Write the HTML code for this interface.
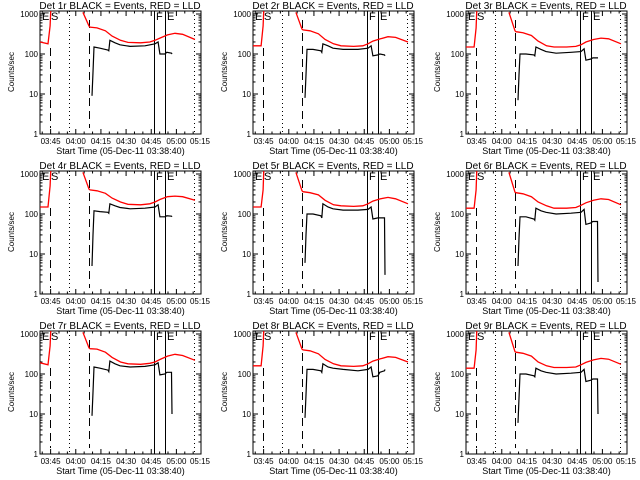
<!DOCTYPE html>
<html><head><meta charset="utf-8">
<style>
html,body{margin:0;padding:0;background:#fff;}
svg{display:block;}
text{font-family:"Liberation Sans",sans-serif;fill:#000;}
</style></head>
<body>
<svg id="chart" width="640" height="480" viewBox="0 0 640 480" xmlns="http://www.w3.org/2000/svg"></svg>
<script>
// Data: time in minutes since 03:38:40
const redT1 = [0, 4.8, 6, 6.5];
const redT2 = [25.6, 29.2, 29.8, 34, 39, 43, 48, 52.5, 60, 65.5, 68.6, 71.5, 76, 80.5, 85, 92.4];
const blackT = [31, 31.6, 32.2, 35.8, 40.5, 41, 41.7, 44.7, 47.7, 53.7, 62.6, 68.6, 70.4, 71.5, 74.5, 75.6, 78.4, 78.7];
const detNames = ["1r","2r","3r","4r","5r","6r","7r","8r","9r"];
const red1Vals = [
  [200,180,500,1500],[160,160,500,1500],[150,150,450,1500],
  [150,150,500,1500],[150,150,400,1500],[140,140,400,1500],
  [190,170,500,1500],[160,160,500,1500],[140,140,400,1500]];
const red2Vals = [
  [1100,500,470,450,380,280,220,195,190,200,220,250,300,330,310,230],
  [1100,420,400,380,320,230,180,160,155,160,180,210,240,270,260,200],
  [1100,380,360,340,290,210,160,150,150,155,170,200,230,250,240,180],
  [1100,420,400,380,330,250,200,175,170,180,200,230,270,280,270,220],
  [1100,380,360,340,300,220,170,160,155,160,180,210,240,260,240,180],
  [1100,350,340,320,270,200,160,140,140,145,165,190,220,240,230,170],
  [1100,450,430,420,350,260,200,180,175,185,200,230,280,310,290,220],
  [1100,420,400,380,320,230,180,160,155,160,180,210,240,270,260,200],
  [1100,360,350,330,280,200,160,145,145,150,170,195,225,245,235,175]];
const blackVals = [
  [9,35,150,140,125,120,220,190,170,155,160,180,200,100,100,110,105,100],
  [8,30,130,130,120,110,180,160,140,130,130,140,160,90,95,100,95,90],
  [7,30,100,100,95,90,150,130,115,105,110,115,135,70,75,80,80,80],
  [5,30,120,115,110,105,180,160,145,135,140,150,170,85,85,90,88,85],
  [6,30,100,100,90,80,180,150,135,125,125,130,150,75,80,80,80,3],
  [5,25,85,85,75,70,140,120,110,100,105,110,130,55,60,65,65,2],
  [9,35,150,140,125,115,210,180,160,150,155,170,190,95,100,110,110,10],
  [8,30,130,130,120,110,180,150,140,130,120,130,150,85,90,110,120,130],
  [6,25,100,100,90,85,140,120,110,100,105,110,130,65,70,75,75,10]];
const xTickLabels = ["03:45","04:00","04:15","04:30","04:45","05:00","05:15"];
const xTickMins = [6.33,21.33,36.33,51.33,66.33,81.33,96.33];
const yTickVals = [1,10,100,1000];
const yTickLabels = ["1","10","100","1000"];
// event markers (minutes): dashed, dotted, dashed, solid, solid, dotted
const markerT = [6, 17.3, 29.2, 68, 74.5, 92];
const markerStyle = ["dash","dot","dash","solid","solid","dot"];

const NS = "http://www.w3.org/2000/svg";
const svg = document.getElementById("chart");
function mk(tag, attrs, parent){const e=document.createElementNS(NS,tag);for(const k in attrs)e.setAttribute(k,attrs[k]);(parent||svg).appendChild(e);return e;}

const PW=161, PTOP=11, PBOT=134, TMAX=96;
for(let p=0;p<9;p++){
  const ox=[0,213,426][p%3], oy=Math.floor(p/3)*160;
  const L=ox+40, R=L+PW, T=oy+PTOP, B=oy+PBOT;
  const xs=t=>L+t*PW/TMAX;
  const ys=v=>B-40*Math.log10(v);
  const g=mk("g",{});
  
  
  const clipId="c"+p;
  const cp=mk("clipPath",{id:clipId},g); mk("rect",{x:L,y:T,width:PW,height:B-T},cp);
  const title=mk("text",{x:ox+120,y:oy+9,"font-size":"10","text-anchor":"middle"},g);
  title.textContent="Det "+detNames[p]+" BLACK = Events, RED = LLD";
  
  
  const yl=mk("text",{x:0,y:0,"font-size":"8","text-anchor":"middle",transform:`translate(${ox+14},${oy+72}) rotate(-90)`},g);
  yl.textContent="Counts/sec";
  
  
  const xl=mk("text",{x:L+PW/2,y:oy+154,"font-size":"9","text-anchor":"middle"},g);
  xl.textContent="Start Time (05-Dec-11 03:38:40)";
  
  
  const fr=mk("rect",{x:L,y:T,width:PW,height:B-T,fill:"none",stroke:"#000","stroke-width":"1"},g);
  
  
  yTickVals.forEach((v,i)=>{
    const y=ys(v);
    mk("line",{x1:L,x2:L+5,y1:y,y2:y,stroke:"#000"},g);
    mk("line",{x1:R-5,x2:R,y1:y,y2:y,stroke:"#000"},g);
    const t=mk("text",{x:L-2,y:y+3,"font-size":"8","text-anchor":"end"},g);
    t.textContent=yTickLabels[i];
    
    
    if(i<3){for(let m=2;m<10;m++){const yy=ys(v*m);
      mk("line",{x1:L,x2:L+2.5,y1:yy,y2:yy,stroke:"#000"},g);
      mk("line",{x1:R-2.5,x2:R,y1:yy,y2:yy,stroke:"#000"},g);}}
  });
  xTickMins.forEach((m,i)=>{
    const x=xs(m);
    if(x<=R+0.5){
      mk("line",{x1:x,x2:x,y1:B,y2:B-5,stroke:"#000"},g);
      mk("line",{x1:x,x2:x,y1:T,y2:T+5,stroke:"#000"},g);
    }
    const t=mk("text",{x:Math.min(x,R-1),y:B+10,"font-size":"8","text-anchor":"middle"},g);
    t.textContent=xTickLabels[i];
    
    
    for(let k=1;k<3;k++){const xx=xs(m-5*k); if(xx>L&&xx<R){
      mk("line",{x1:xx,x2:xx,y1:B,y2:B-2.5,stroke:"#000"},g);
      mk("line",{x1:xx,x2:xx,y1:T,y2:T+2.5,stroke:"#000"},g);}}
  });
  markerT.forEach((m,i)=>{
    const x=Math.round(xs(m))+0.5;
    const st=markerStyle[i];
    const a={x1:x,x2:x,y1:T,y2:B,stroke:"#000","stroke-width":"1"};
    if(st==="dash"){a.y1=i===0?oy+48:oy+20;a.y2=oy+128;a["stroke-dasharray"]="8,5";}
    if(st==="dot"){a["stroke-dasharray"]="1,3";}
    const ln=mk("line",a,g);
    
    
  });
  [["E",L+2],["S",L+11],["F",xs(markerT[3])+2],["E",xs(markerT[4])+2]].forEach(([s,x])=>{
    const t=mk("text",{x:x,y:T+9,"font-size":"11"},g);
    t.textContent=s;
    
    
  });
  const cg=mk("g",{"clip-path":`url(#${clipId})`},g);
  const pts=(ts,vs)=>ts.map((t,i)=>xs(t).toFixed(1)+","+ys(vs[i]).toFixed(1)).join(" ");
  const r1=mk("polyline",{points:pts(redT1,red1Vals[p]),fill:"none",stroke:"#f00","stroke-width":"1.3"},cg);
  
  
  const r2=mk("polyline",{points:pts(redT2,red2Vals[p]),fill:"none",stroke:"#f00","stroke-width":"1.3"},cg);
  
  
  const bl=mk("polyline",{points:pts(blackT,blackVals[p]),fill:"none",stroke:"#000","stroke-width":"1.2"},cg);
  
  
}
</script>
</body></html>
